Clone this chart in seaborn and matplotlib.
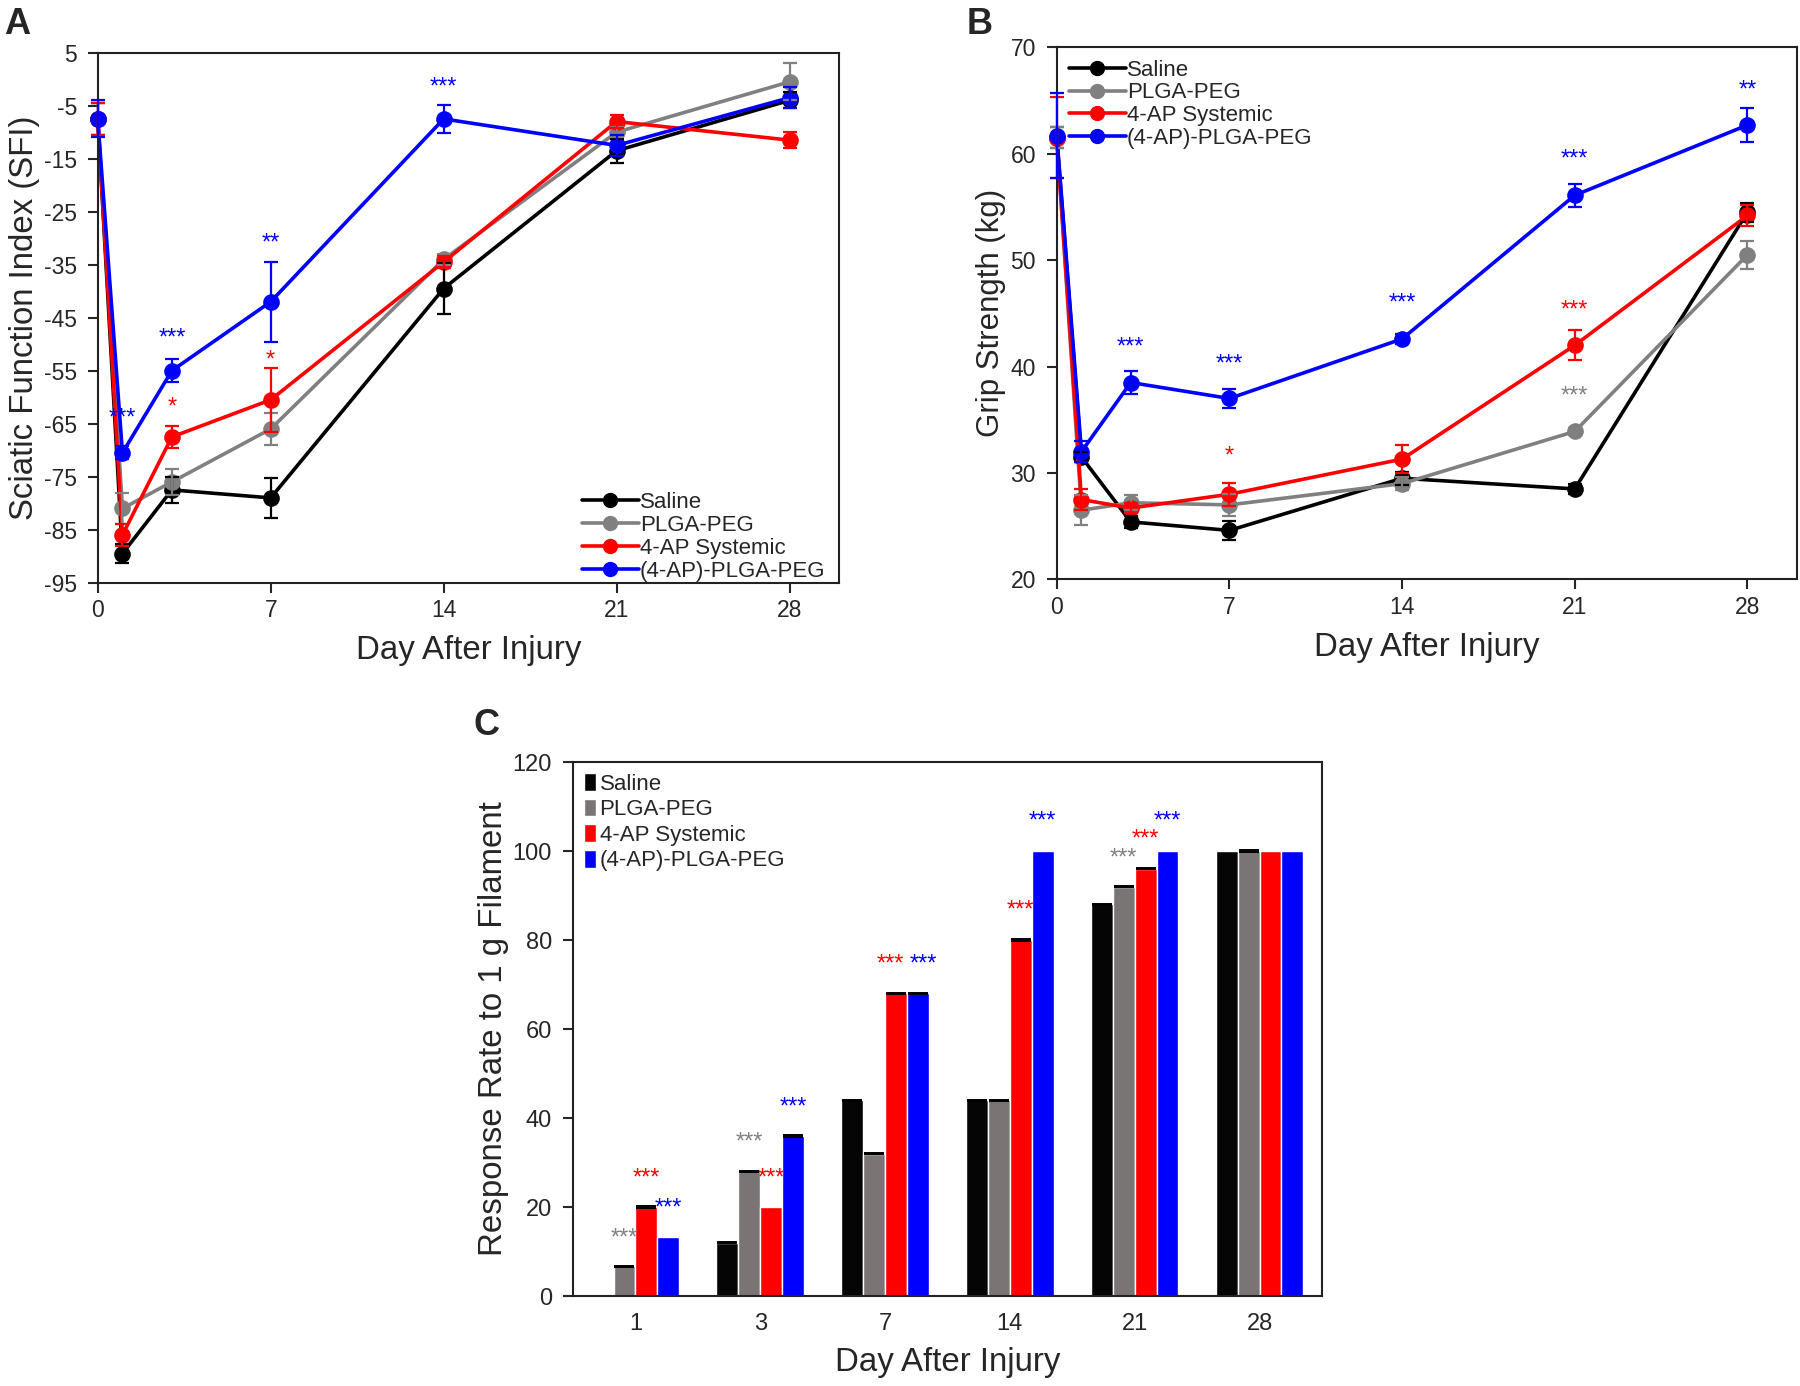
import matplotlib
matplotlib.use('Agg')
import matplotlib.pyplot as plt
from matplotlib.lines import Line2D
from matplotlib.patches import Patch
import seaborn as sns
import pandas as pd

groups = ['Saline', 'PLGA-PEG', '4-AP Systemic', '(4-AP)-PLGA-PEG']
line_colors = ['#000000', '#808080', '#ff0000', '#0000ff']
bar_colors = ['#050505', '#7a7574', '#ff0000', '#0000ff']

days = [0, 1, 3, 7, 14, 21, 28]

# Panel A - sciatic function index
sfi_saline = [-7.5, -89.5, -77.5, -79, -39.5, -13.5, -4]
sfi_plga = [-7.5, -81, -76, -66, -34, -10, -0.5]
sfi_4ap = [-7.5, -86, -67.5, -60.5, -34.5, -8, -11.5]
sfi_4ap_plga = [-7.5, -70.5, -55, -42, -7.5, -12.5, -3.5]
sfi_err_saline = [3, 1.8, 2.5, 3.8, 4.8, 2.3, 1.5]
sfi_err_plga = [3, 3, 2.5, 3, 1, 1, 3.5]
sfi_err_4ap = [3, 2, 2, 6, 1.2, 1.2, 1.5]
sfi_err_4ap_plga = [3.5, 1.2, 2.2, 7.5, 2.7, 2, 2]

# Panel B - grip strength
grip_saline = [61.5, 31.5, 25.4, 24.6, 29.5, 28.5, 54.5]
grip_plga = [61.5, 26.5, 27.2, 27, 29, 33.9, 50.5]
grip_4ap = [61.5, 27.5, 26.7, 28, 31.3, 42, 54.2]
grip_4ap_plga = [61.7, 32, 38.5, 37, 42.6, 56.1, 62.7]
grip_err_saline = [1, 0.5, 0.6, 0.9, 0.6, 0.5, 0.9]
grip_err_plga = [1, 1.4, 0.7, 1, 0.6, 0.3, 1.3]
grip_err_4ap = [3.8, 1, 0.5, 1.1, 1.3, 1.4, 1]
grip_err_4ap_plga = [4, 1, 1.1, 0.9, 0.5, 1.1, 1.6]

# Panel C - response rate to 1 g filament
bar_days = ['1', '3', '7', '14', '21', '28']
resp_saline = [0, 12, 44, 44, 88, 100]
resp_plga = [6.7, 28, 32, 44, 92, 100]
resp_4ap = [20, 20, 68, 80, 96, 100]
resp_4ap_plga = [13.3, 36, 68, 100, 100, 100]
resp_err_saline = [0, 0.15, 0.15, 0.15, 0.15, 0]
resp_err_plga = [0.15, 0.15, 0.15, 0.15, 0.15, 0.15]
resp_err_4ap = [0.15, 0, 0.15, 0.15, 0.15, 0]
resp_err_4ap_plga = [0, 0.15, 0.15, 0, 0, 0]

# significance marks: (group index, day, y, text)
sig_a = [(3, 1, -64, '***'), (3, 3, -49, '***'), (2, 3, -62, '*'),
         (3, 7, -31, '**'), (2, 7, -53, '*'), (3, 14, -1.5, '***')]
sig_b = [(3, 3, 41.8, '***'), (3, 7, 40.2, '***'), (2, 7, 31.5, '*'),
         (3, 14, 45.9, '***'), (3, 21, 59.5, '***'), (2, 21, 45.3, '***'),
         (1, 21, 37.2, '***'), (3, 28, 65.9, '**')]
sig_c = [(1, '1', 13, '***'), (2, '1', 26.4, '***'), (3, '1', 19.7, '***'),
         (1, '3', 34.4, '***'), (2, '3', 26.4, '***'), (3, '3', 42.4, '***'),
         (2, '7', 74.4, '***'), (3, '7', 74.4, '***'),
         (2, '14', 86.6, '***'), (3, '14', 106.6, '***'),
         (1, '21', 98.4, '***'), (2, '21', 102.6, '***'), (3, '21', 106.6, '***')]

sns.set_theme(style='ticks')
plt.rcParams['font.family'] = ['Liberation Sans', 'DejaVu Sans']
plt.rcParams['axes.linewidth'] = 1.5
plt.rcParams['axes.unicode_minus'] = False

fig = plt.figure(figsize=(18, 13.86), dpi=100)
axA = fig.add_axes([0.0543, 0.5796, 0.4118, 0.3824])
axB = fig.add_axes([0.5871, 0.5820, 0.4111, 0.3838])
axC = fig.add_axes([0.3183, 0.0649, 0.4161, 0.3853])


def line_panel(ax, series, errs, ylabel, ylsize, ylim, yticks, sigs, legend_loc, anchor, legpad, bpad):
    df = pd.DataFrame({
        'day': days * 4,
        'value': sum(series, []),
        'group': [g for g in groups for _ in days],
    })
    sns.lineplot(data=df, x='day', y='value', hue='group', hue_order=groups,
                 palette=line_colors, marker='o', markersize=12, markeredgewidth=0,
                 linewidth=2.6, legend=False, errorbar=None, ax=ax, clip_on=False)
    for vals, err, c in zip(series, errs, line_colors):
        ax.errorbar(days, vals, yerr=err, fmt='none', ecolor=c, elinewidth=1.6,
                    capsize=5, capthick=1.6, clip_on=False, zorder=3)
    for gi, d, y, t in sigs:
        ax.text(d, y, t, color=line_colors[gi], fontsize=17, ha='center', va='center')
    ax.set_xlim(0, 30)
    ax.set_ylim(*ylim)
    ax.set_xticks([0, 7, 14, 21, 28])
    ax.set_yticks(yticks)
    ax.set_xlabel('Day After Injury', fontsize=23.8, labelpad=9)
    ax.set_ylabel(ylabel, fontsize=ylsize, labelpad=3)
    ax.tick_params(direction='out', length=7, width=1.5, labelsize=16.5,
                   top=False, right=False)
    ax.tick_params(axis='y', pad=8)
    ax.tick_params(axis='x', pad=5)
    handles = [Line2D([], [], color=c, lw=2.6, marker='o', markersize=10) for c in line_colors]
    ax.legend(handles, groups, loc=legend_loc, bbox_to_anchor=anchor, frameon=False,
              fontsize=16, handlelength=2.55, handletextpad=0.05, labelspacing=0.08,
              borderpad=bpad, borderaxespad=legpad)


line_panel(axA, [sfi_saline, sfi_plga, sfi_4ap, sfi_4ap_plga],
           [sfi_err_saline, sfi_err_plga, sfi_err_4ap, sfi_err_4ap_plga],
           'Sciatic Function Index (SFI)', 23.8, (-95, 5), range(-95, 6, 10), sig_a,
           'lower right', (0.983, 0.0), 0.0, 0.05)
line_panel(axB, [grip_saline, grip_plga, grip_4ap, grip_4ap_plga],
           [grip_err_saline, grip_err_plga, grip_err_4ap, grip_err_4ap_plga],
           'Grip Strength (kg)', 22.5, (20, 70), range(20, 71, 10), sig_b,
           'upper left', (0.0, 1.0), 0.35, 0.2)

# Panel C
resp = [resp_saline, resp_plga, resp_4ap, resp_4ap_plga]
resp_err = [resp_err_saline, resp_err_plga, resp_err_4ap, resp_err_4ap_plga]
dfc = pd.DataFrame({
    'day': bar_days * 4,
    'rate': sum(resp, []),
    'group': [g for g in groups for _ in bar_days],
})
sns.barplot(data=dfc, x='day', y='rate', hue='group', order=bar_days, hue_order=groups,
            palette=bar_colors, saturation=1, width=0.7, edgecolor='white',
            linewidth=1, legend=False, errorbar=None, ax=axC)
bar_containers = list(axC.containers)
centers = {}
for gi, cont in enumerate(bar_containers):
    for di, bar in enumerate(cont.patches):
        cx = bar.get_x() + bar.get_width() / 2
        centers[(gi, bar_days[di])] = cx
        e = resp_err[gi][di]
        if e > 0:
            axC.errorbar(cx, bar.get_height(), yerr=e, fmt='none', ecolor='black',
                         elinewidth=1, capsize=7, capthick=1.4, zorder=4)
# neighbouring marks at equal height are pushed apart so they do not collide
for gi, d, y, t in sig_c:
    shift = 0.0
    same_row = [g for g, dd, yy, _ in sig_c if dd == d and yy == y]
    if len(same_row) > 1:
        shift = -0.045 if gi == min(same_row) else 0.045
    axC.text(centers[(gi, d)] + shift, y, t, color=line_colors[gi], fontsize=17,
             ha='center', va='center')
axC.set_xlim(-0.5, 5.5)
axC.set_ylim(0, 120)
axC.set_yticks(range(0, 121, 20))
axC.set_xlabel('Day After Injury', fontsize=23.8, labelpad=9)
axC.set_ylabel('Response Rate to 1 g Filament', fontsize=23.8, labelpad=3)
axC.tick_params(axis='y', direction='out', length=7, width=1.5, labelsize=17, pad=8, right=False)
axC.tick_params(axis='x', length=0, labelsize=17, pad=12, top=False)
phandles = [Patch(facecolor=c, edgecolor='white') for c in bar_colors]
axC.legend(phandles, groups, loc='upper left', frameon=False, fontsize=16,
           handlelength=0.55, handleheight=0.85, handletextpad=0.15,
           labelspacing=0.18, borderpad=0.3, borderaxespad=0.2)

for ax in (axA, axB, axC):
    for s in ax.spines.values():
        s.set_visible(True)
        s.set_linewidth(1.5)
        s.set_color('#222222')

fig.text(0.002, 0.995, 'A', fontsize=26, fontweight='bold', ha='left', va='top')
fig.text(0.537, 0.995, 'B', fontsize=26, fontweight='bold', ha='left', va='top')
fig.text(0.263, 0.489, 'C', fontsize=26, fontweight='bold', ha='left', va='top')

fig.savefig('out.png', dpi=100)
